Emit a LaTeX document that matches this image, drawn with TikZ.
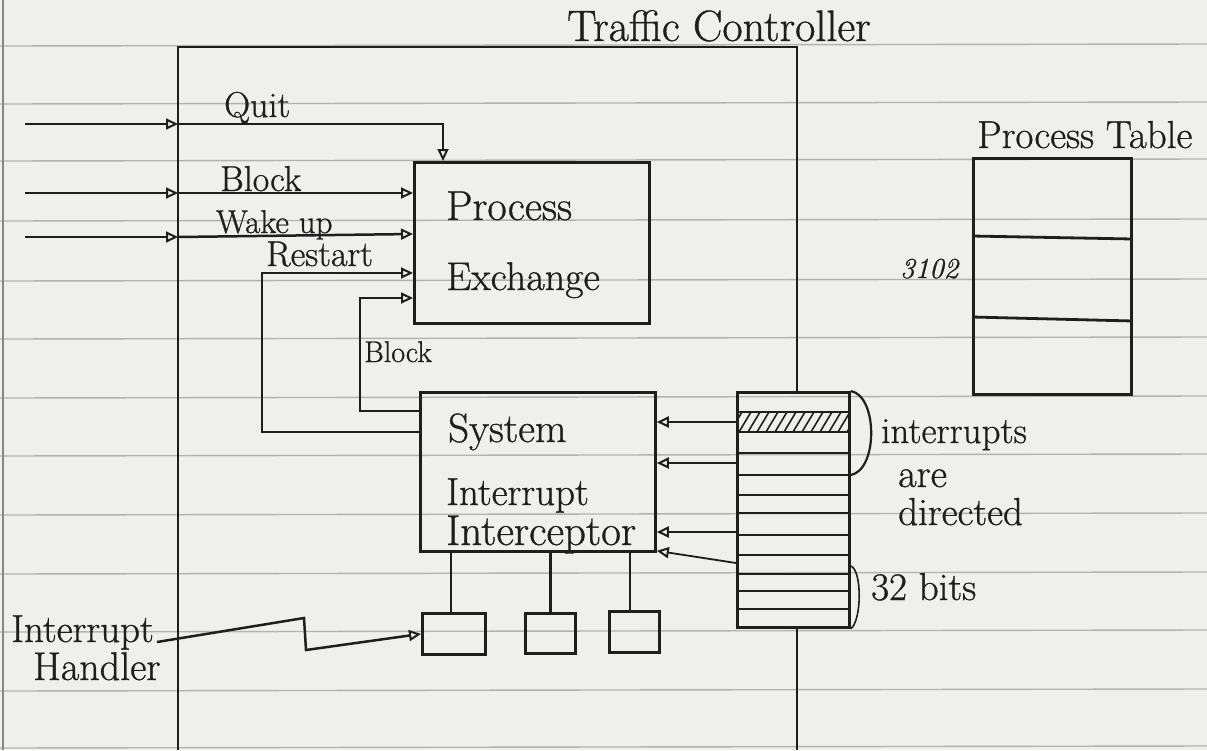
\documentclass[tikz,border=0pt]{standalone}
\usepackage{fontspec}
\setmainfont{Latin Modern Roman}[FakeBold=0.8]
\usetikzlibrary{arrows.meta}
\definecolor{paper}{HTML}{EFEFED}
\definecolor{rule}{HTML}{B2B2B0}
\definecolor{ink}{HTML}{1E1E1E}
\newcommand{\fsz}[1]{\fontsize{#1}{#1}\selectfont}
\begin{document}
\begin{tikzpicture}[x=1pt,y=-1pt,
  wire/.style={draw=ink, line width=2.5pt},
  box/.style={draw=ink, line width=2.8pt, inner sep=0pt, anchor=north west},
  lbl/.style={text=ink, inner sep=0pt, anchor=base west},
  tri/.style={wire, -{Triangle[open,length=12pt,width=11pt,line width=2pt]}},
  ruled/.style={draw=rule, line width=1.4pt}]
% paper
\fill[paper] (0,0) rectangle (1207,750);
\useasboundingbox (0,0) rectangle (1207,750);
\foreach \yy in {46,104,161,221,281,339,398,456,515,574,632,691,748}
  \draw[ruled] (0,\yy) -- (1207,\yy-2);
\draw[draw=rule!70!ink, line width=1.4pt] (3,0) -- (3,750);

% Traffic controller frame
\node[lbl, font=\fsz{44}] (tc) at (567,41) {Traffic Controller};
\draw[wire] (178,750) -- (178,47) -- (797,47) -- (797,391);
\draw[wire] (797,626) -- (797,750);

% boxes
\node[box, minimum width=235pt, minimum height=161pt] (pe) at (413,161) {};
\node[box, minimum width=235pt, minimum height=159pt] (sii) at (419,391) {};
\node[box, minimum width=112pt, minimum height=235pt] (reg) at (736,391) {};
\node[box, minimum width=63pt, minimum height=41pt] (b1) at (421,612) {};
\node[box, minimum width=50pt, minimum height=40pt] (b2) at (524,612) {};
\node[box, minimum width=50pt, minimum height=41pt] (b3) at (608,610) {};
\node[box, minimum width=158pt, minimum height=236pt] (ptab) at (972,157) {};

% labels in boxes
\node[lbl, font=\fsz{42}] (pe1) at (446,220) {Process};
\node[lbl, font=\fsz{40}] (pe2) at (446,290) {Exchange};
\node[lbl, font=\fsz{41}] (s1) at (448,442) {System};
\node[lbl, font=\fsz{39}] (s2) at (446,505) {Interrupt};
\node[lbl, font=\fsz{43}] (s3) at (446,545) {Interceptor};

% input signals
\coordinate (qin) at (25,124);  \coordinate (qx) at (178,124);
\coordinate (bin) at (25,193);  \coordinate (bx) at (178,193);
\coordinate (win) at (25,237);  \coordinate (wx) at (178,237);
\draw[tri] (qin) -- (qx);
\draw[tri] (qx) -| ([xshift=30pt]pe.north west);
\draw[tri] (bin) -- (bx);
\draw[tri] (bx) -- (bx -| pe.west);
\draw[tri] (win) -- (wx);
\draw[tri] (wx) -- ([yshift=-73pt]pe.north west);
\node[lbl, font=\fsz{36}] (lq) at (224,117) {Quit};
\node[lbl, font=\fsz{36}] (lb) at (220,191) {Block};
\node[lbl, font=\fsz{33}] (lw) at (216,233) {Wake up};
\node[lbl, font=\fsz{36}] (lr) at (266,266) {Restart};
\node[lbl, font=\fsz{30}] (lb2) at (364,362) {Block};

% feedback from interceptor
\draw[tri] ([yshift=-41pt]sii.north west) -| ([xshift=-151pt,yshift=-112pt]pe.north west)
   -- ([yshift=-112pt]pe.north west);
\draw[tri] ([yshift=-20pt]sii.north west) -| ([xshift=-53pt,yshift=-137pt]pe.north west)
   -- ([yshift=-137pt]pe.north west);

% register rows
\begin{scope}
  \clip (736,412) rectangle (848,432);
  \foreach \xx in {730,739,...,860}
    \draw[ink, line width=1.6pt] (\xx,432) -- (\xx+12,412);
\end{scope}
\foreach \yy in {412,432,453,475,495,513,535,555,574,591,609}
  \draw[ink, line width=2.3pt] (reg.west |- 0,\yy) -- (reg.east |- 0,\yy);

% register to interceptor
\draw[tri] (reg.west |- 0,422) -- (sii.east |- 0,422);
\draw[tri] (reg.west |- 0,463) -- (sii.east |- 0,463);
\draw[tri] (reg.west |- 0,532) -- (sii.east |- 0,532);
\draw[tri, line width=1.8pt] (reg.west |- 0,563) -- ([yshift=2pt]sii.south east);

% braces
\draw[ink, line width=2.2pt] (reg.north east) .. controls (878,396) and (878,470) .. (reg.east |- 0,475);
\draw[ink, line width=1.6pt] (reg.east |- 0,566) .. controls (862,570) and (862,620) .. (reg.south east);
\node[lbl, font=\fsz{37}] (ia) at (881,443) {interrupts};
\node[lbl, font=\fsz{40}] (ib) at (898,487) {are};
\node[lbl, font=\fsz{39}] (ic) at (898,525) {directed};
\node[lbl, font=\fsz{39}] (bits) at (871,600) {32 bits};

% small boxes connections
\draw[wire] (b1.north -| 451,0) -- (sii.south -| 451,0);
\draw[wire] (b2.north) -- (sii.south -| b2.north);
\draw[wire] (b3.north -| 630,0) -- (sii.south -| 630,0);

% interrupt handler
\node[lbl, font=\fsz{39}] (ih1) at (11,642) {Interrupt};
\node[lbl, font=\fsz{40}] (ih2) at (33,680) {Handler};
\draw[tri] ([xshift=3pt]ih1.base east) -- (304,618) -- (306,650) -- (b1.west);

% process table
\node[lbl, font=\fsz{39}] (ptl) at (977,148) {Process Table};
\draw[ink, line width=2.8pt] (ptab.west |- 0,236) -- (ptab.east |- 0,239);
\draw[ink, line width=2.8pt] (ptab.west |- 0,317) -- (ptab.east |- 0,321);
\node[lbl, font=\fsz{29}\itshape] (n3102) at (900,278) {3102};
\end{tikzpicture}
\end{document}
